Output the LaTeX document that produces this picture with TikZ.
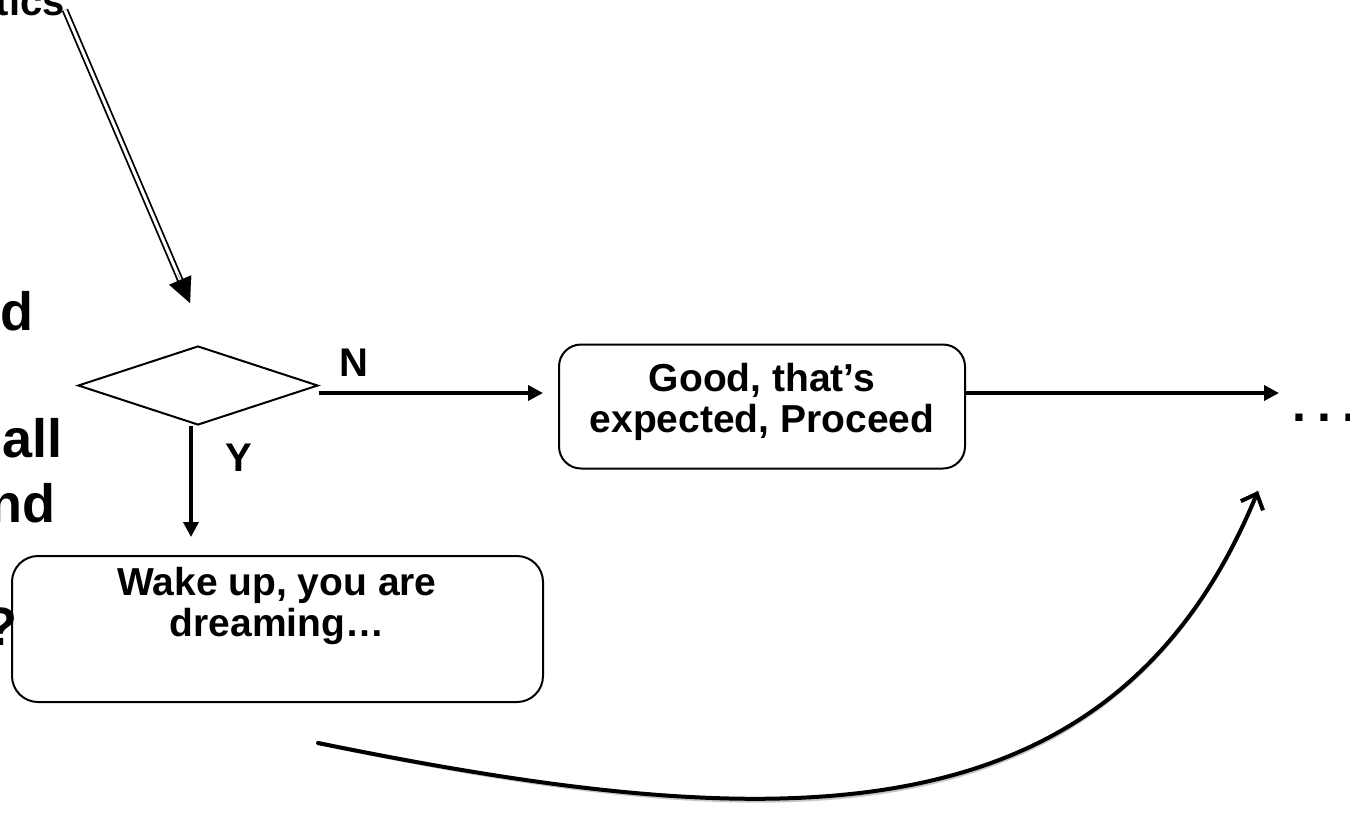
\documentclass[tikz,border=0pt]{standalone}
\usepackage{fontspec}
\setmainfont{Liberation Sans}
\usetikzlibrary{shapes.geometric,arrows.meta,calc}
\begin{document}
\begin{tikzpicture}[x=1pt,y=-1pt,
  bigtxt/.style={font=\fontsize{54}{64}\selectfont\bfseries, inner sep=0pt, anchor=base east},
  boxtxt/.style={font=\fontsize{39}{41}\selectfont\bfseries, align=center},
  roundbox/.style={draw, line width=2pt, rounded corners=22pt, inner sep=0pt},
  arr/.style={line width=3.6pt, -{Triangle[length=15pt,width=15pt]}},
  lbl/.style={font=\fontsize{40}{44}\selectfont\bfseries, inner sep=0pt}
]
\useasboundingbox (0,0) rectangle (1350,820);
\clip (0,0) rectangle (1350,820);
\fill[white] (0,0) rectangle (1350,820);

% clipped fragments of left-side text
\node[bigtxt, font=\fontsize{40}{48}\selectfont\bfseries] (t1) at (65,15) {tics};
\node[bigtxt] (t2) at (34,330) {d};
\node[bigtxt] (t3) at (63,457) {all};
\node[bigtxt] (t4) at (56,522) {nd};
\node[bigtxt] (t5) at (18,645) {?};

% diamond
\node[diamond, draw, line width=2pt, minimum width=240pt, minimum height=79pt, inner sep=0pt] (dia) at (198,385.5) {};

% boxes
\node[roundbox, minimum width=406pt, minimum height=124pt] (good) at (762,406.5) {};
\node[boxtxt] (goodtxt) at (762,402) {Good, that’s\\expected, Proceed};
\node[roundbox, rounded corners=26pt, minimum width=531pt, minimum height=146pt] (wake) at (277.5,629) {};
\node[boxtxt] (waketxt) at (277,606) {Wake up, you are\\dreaming…};

% double arrow
\coordinate (ds) at (65,10);
\coordinate (dt) at (190,303);
\draw[line width=1.8pt, double distance=3pt, shorten >=22pt] (ds) -- (dt);
\draw[line width=0.1pt, -{Triangle[length=25pt,width=24pt]}] ($(ds)!0.9!(dt)$) -- (dt);

% Y arrow
\coordinate (ys) at (191,426);
\coordinate (yt) at (191,537);
\draw[arr] (ys) -- (yt);
\node[lbl] (ylbl) at (239,458) {Y};

% N arrow
\coordinate (ns) at (319,393);
\coordinate (nt) at (543,393);
\draw[arr] (ns) -- (nt);
\node[lbl] (nlbl) at (354,363) {N};

% right arrow and dots
\coordinate (rt) at (1279,393);
\draw[arr] (good.east |- rt) -- (rt);
\node[font=\fontsize{50}{56}\selectfont\bfseries, inner sep=0pt, anchor=base west] (dots) at (1292.5,421) {.\hspace{11pt}.\hspace{11pt}.};

% curved arrow with shadow
\coordinate (cs) at (318,743);
\coordinate (ct) at (1258,491);
\draw[line width=4pt, black!22, shift={(2pt,-3pt)}] (cs) .. controls (770,835) and (1110,850) .. (ct);
\draw[line width=4pt, line cap=round, -{Straight Barb[length=13pt,width=24pt]}] (cs) .. controls (770,835) and (1110,850) .. (ct);
\end{tikzpicture}
\end{document}
